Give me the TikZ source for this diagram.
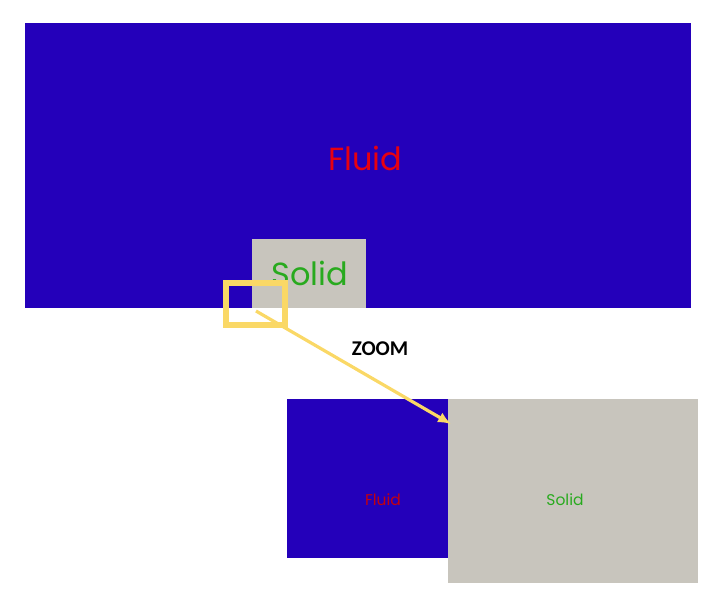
\documentclass[tikz,border=0pt]{standalone}
\usepackage{fontspec}
\newfontfamily\labelfont{Poppins}
\newfontfamily\zoomfont{Carlito}
\usetikzlibrary{arrows.meta}

\definecolor{fluidblue}{RGB}{36,0,186}
\definecolor{solidgray}{RGB}{200,197,189}
\definecolor{zoomyellow}{RGB}{250,216,102}
\definecolor{fluidred}{RGB}{232,0,16}
\definecolor{solidgreen}{RGB}{40,170,30}

\begin{document}
\begin{tikzpicture}[x=1pt,y=-1pt]
	\useasboundingbox (0,0) rectangle (720,600);
	% whole domain
	\fill[fluidblue] (25,23) rectangle (691,308);
	\fill[solidgray] (252,239) rectangle (366,308);
	\node[text=fluidred,font=\labelfont\fontsize{32}{34}\selectfont] (fluidbig) at (365,158) {Fluid};
	\node[text=solidgreen,font=\labelfont\fontsize{32}{34}\selectfont] (solidbig) at (310,273) {Solid};

	% zoomed part
	\fill[fluidblue] (287,399) rectangle (448,558);
	\fill[solidgray] (448,399) rectangle (698,583);
	\node[text=fluidred!85!black,font=\labelfont\fontsize{15.5}{17}\selectfont] (fluidsmall) at (383,500) {Fluid};
	\node[text=solidgreen,font=\labelfont\fontsize{15.5}{17}\selectfont] (solidsmall) at (565,500) {Solid};

	\draw[zoomyellow,line width=6pt] (226,283) rectangle (285,325);
	\coordinate (zoomfrom) at (256,311);
	\coordinate (zoomto) at (451,424);
	\draw[zoomyellow,line width=3.2pt,-{Latex[length=13pt,width=11pt]}] (zoomfrom) -- (zoomto);
	\node[font=\zoomfont\bfseries\fontsize{21}{23}\selectfont] (zoomlabel) at (380,349) {ZOOM};
\end{tikzpicture}
\end{document}
